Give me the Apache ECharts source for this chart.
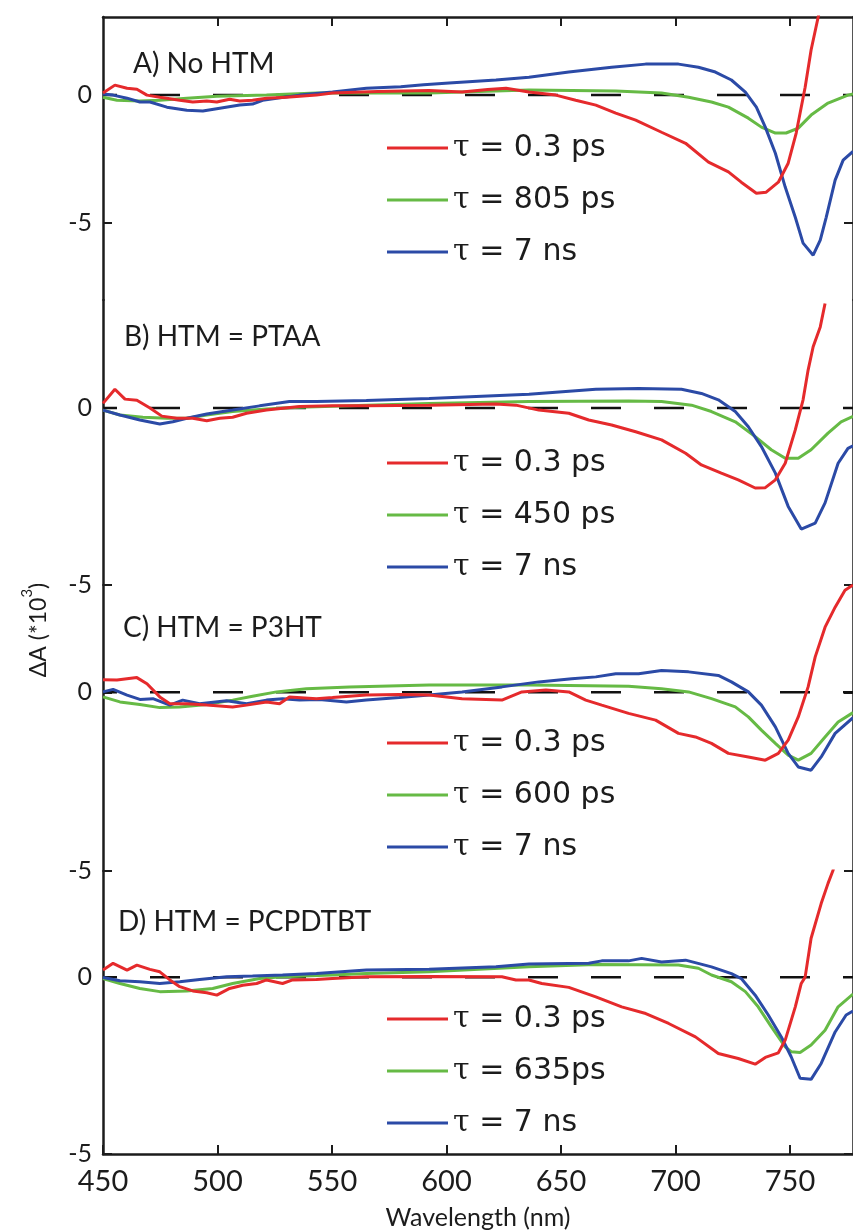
<!DOCTYPE html>
<html>
<head>
<meta charset="utf-8">
<script src="https://cdn.jsdelivr.net/npm/echarts@6/dist/echarts.min.js"></script>
<style>
  html, body { margin: 0; padding: 0; background: #ffffff; }
  #chart { width: 853px; height: 1232px; }
</style>
</head>
<body>
<div id="chart"></div>
<script>
// Transient absorption spectra: ΔA (×10^3) versus probe wavelength (nm),
// three decay components per sample, four samples stacked top to bottom.

const wavelengthTicks = [450, 500, 550, 600, 650, 700, 750];
const deltaTicks = [-5, 0];

const panelTitles = ['A) No HTM', 'B) HTM = PTAA', 'C) HTM = P3HT', 'D) HTM = PCPDTBT'];
const lifetimeLabels = [
  ['τ = 0.3 ps', 'τ = 805 ps', 'τ = 7 ns'],
  ['τ = 0.3 ps', 'τ = 450 ps', 'τ = 7 ns'],
  ['τ = 0.3 ps', 'τ = 600 ps', 'τ = 7 ns'],
  ['τ = 0.3 ps', 'τ = 635ps', 'τ = 7 ns']
];

// A) No HTM
const noHtmFast = [[450,0.08],[455.2,0.39],[460.5,0.27],[464.8,0.23],[469.2,0],[474.8,-0.08],[483.5,-0.2],[489.2,-0.27],[495.3,-0.23],[499.7,-0.27],[505.3,-0.16],[509.7,-0.23],[515.3,-0.2],[521.4,-0.12],[530.1,-0.08],[543.2,0],[550.2,0.08],[570,0.14],[592.4,0.18],[606.8,0.12],[618,0.22],[626,0.27],[636,0.12],[647.7,0],[656.4,-0.2],[665.2,-0.39],[673.9,-0.7],[682.6,-0.98],[693.9,-1.45],[704.4,-1.88],[714.4,-2.62],[723.1,-3.0],[728.7,-3.4],[735.3,-3.83],[739.6,-3.79],[744.9,-3.4],[749.2,-2.66],[752.7,-1.48],[756.6,0.31],[759.2,1.76],[762.3,3.05],[764,3.8]];
const noHtmMid = [[450,-0.08],[456.1,-0.2],[466.1,-0.23],[474.8,-0.2],[486.6,-0.12],[499.7,-0.04],[521.4,0],[543.2,0.08],[592.4,0.08],[606.8,0.12],[636,0.2],[673.9,0.16],[693.9,0.08],[705.7,-0.08],[715.7,-0.27],[723.1,-0.47],[731.8,-0.9],[737.5,-1.25],[743.6,-1.48],[748.3,-1.48],[753.6,-1.29],[759.2,-0.78],[766.6,-0.31],[775.3,0],[777.5,0.04]];
const noHtmSlow = [[450,0.04],[454.4,0],[460.5,-0.12],[466.1,-0.27],[470.5,-0.27],[477.9,-0.47],[486.6,-0.59],[493.6,-0.62],[501,-0.51],[509.7,-0.39],[515.3,-0.35],[519.7,-0.2],[535.8,0],[550.2,0.12],[565,0.27],[580,0.33],[590,0.4],[601.1,0.47],[621.6,0.59],[636,0.7],[653.4,0.9],[672.1,1.09],[686.9,1.21],[701.3,1.21],[710,1.09],[717.4,0.9],[724.4,0.59],[730.5,0.12],[735.3,-0.47],[739.2,-1.25],[743.6,-2.27],[747.9,-3.59],[752.3,-4.77],[755.7,-5.78],[760.1,-6.25],[763.2,-5.66],[765.8,-4.77],[769.7,-3.32],[773.2,-2.54],[777.5,-2.2]];

// B) HTM = PTAA
const ptaaFast = [[450,0.13],[455.2,0.53],[459.6,0.25],[464.8,0.22],[470.5,0],[475.7,-0.23],[482.2,-0.29],[489.2,-0.29],[495.3,-0.36],[501,-0.29],[506.6,-0.26],[512.7,-0.15],[521.4,-0.06],[535.8,0.04],[550.2,0.06],[565,0.06],[592.4,0.08],[621.6,0.11],[630.3,0.08],[640.3,-0.06],[653.4,-0.15],[662.1,-0.34],[672.1,-0.48],[682.6,-0.67],[693.9,-0.9],[704.4,-1.28],[711.3,-1.61],[720,-1.84],[727.4,-2.03],[734.8,-2.26],[739.2,-2.25],[743.6,-2.03],[747.9,-1.56],[752.3,-0.62],[755.7,0.23],[757.9,1.07],[760.1,1.73],[763.2,2.29],[765.3,2.95]];
const ptaaMid = [[450,-0.06],[457.4,-0.2],[467.4,-0.26],[477.9,-0.29],[486.6,-0.29],[495.3,-0.2],[506.6,-0.1],[521.4,-0.03],[535.8,0.02],[565,0.08],[592.4,0.13],[636,0.18],[679.5,0.2],[693.9,0.18],[707,0.08],[715.7,-0.1],[726.1,-0.39],[734.8,-0.81],[741.8,-1.18],[747.9,-1.42],[753.6,-1.42],[759.2,-1.18],[766.6,-0.71],[772.3,-0.39],[777.5,-0.24]];
const ptaaSlow = [[450,-0.06],[457.4,-0.2],[466.1,-0.34],[474.8,-0.45],[480.5,-0.39],[486.6,-0.29],[495.3,-0.17],[506.6,-0.06],[518.4,0.06],[531.4,0.18],[543.2,0.18],[565,0.21],[592.4,0.27],[636,0.39],[665.2,0.53],[683.9,0.55],[702.6,0.53],[711.3,0.41],[718.7,0.23],[726.1,-0.1],[731.8,-0.53],[737.5,-1.09],[743.6,-1.84],[749.2,-2.78],[754.9,-3.42],[761,-3.25],[765.3,-2.68],[771,-1.56],[775.3,-1.14],[777.5,-1.07]];

// C) HTM = P3HT
const p3htFast = [[450,0.35],[456.1,0.34],[464.8,0.41],[469.2,0.24],[474.8,-0.13],[479.2,-0.32],[486.6,-0.32],[495.3,-0.36],[506.6,-0.41],[512.7,-0.36],[521.4,-0.27],[527.1,-0.32],[531.4,-0.13],[543.2,-0.18],[550.2,-0.15],[565,-0.08],[579.4,-0.06],[592.4,-0.08],[606.8,-0.18],[624.2,-0.22],[632.9,0.01],[643.4,0.06],[653.4,0.01],[660.8,-0.22],[667.8,-0.36],[679.5,-0.59],[691.3,-0.78],[701.3,-1.15],[708.7,-1.25],[715.7,-1.43],[723.1,-1.71],[731.8,-1.81],[739.2,-1.9],[744.9,-1.71],[749.2,-1.34],[753.6,-0.69],[757.9,0.15],[761,0.99],[765.3,1.82],[769.7,2.38],[774,2.85],[777.5,3.0]];
const p3htMid = [[450,-0.13],[457.4,-0.27],[466.1,-0.34],[474.8,-0.43],[483.5,-0.41],[495.3,-0.34],[506.6,-0.22],[515.3,-0.11],[525.8,0.01],[538.8,0.1],[557.6,0.15],[592.4,0.2],[636,0.2],[679.5,0.17],[693.9,0.1],[705.7,0.01],[715.7,-0.18],[726.1,-0.41],[731.8,-0.69],[737.5,-1.06],[743.6,-1.43],[749.2,-1.76],[753.6,-1.9],[759.2,-1.71],[765.3,-1.25],[771,-0.83],[777.5,-0.57]];
const p3htSlow = [[450,0.01],[454.4,0.08],[460.5,-0.08],[466.1,-0.2],[471.8,-0.18],[479.2,-0.36],[484.8,-0.22],[492.2,-0.32],[504,-0.24],[512.7,-0.32],[521.4,-0.22],[528.4,-0.18],[535.8,-0.22],[544.5,-0.2],[556.3,-0.27],[565,-0.22],[579.4,-0.15],[592.4,-0.08],[606.8,0.01],[624.2,0.15],[640.3,0.29],[654.7,0.38],[665.2,0.43],[673.9,0.52],[683.9,0.52],[693.9,0.61],[705.7,0.57],[718.7,0.47],[724.4,0.29],[731.8,0.01],[737.5,-0.36],[743.6,-0.97],[749.2,-1.71],[753.6,-2.09],[759.2,-2.18],[763.6,-1.81],[769.7,-1.15],[777.5,-0.71]];

// D) HTM = PCPDTBT
const pcpdtbtFast = [[450,0.2],[454.4,0.39],[460.5,0.2],[464.8,0.34],[470.5,0.22],[474.8,0.15],[479.2,-0.08],[483.5,-0.27],[489.2,-0.39],[495.3,-0.44],[499.7,-0.51],[505.3,-0.32],[511,-0.23],[517.1,-0.18],[521.4,-0.08],[528.4,-0.18],[532.8,-0.08],[543.2,-0.07],[550.2,-0.04],[565,0.01],[592.4,0.02],[624.2,0.01],[630.3,-0.08],[636,-0.08],[641.6,-0.18],[653.4,-0.29],[665.2,-0.56],[676.5,-0.84],[687,-1.03],[697,-1.31],[708.7,-1.69],[718.7,-2.16],[727.4,-2.3],[734.8,-2.46],[739.2,-2.27],[744.9,-2.14],[747.9,-1.78],[752.3,-0.84],[754.9,-0.18],[756.6,0],[759.2,1.1],[763.6,2.08],[766.6,2.65],[768.8,3.02],[770,3.4]];
const pcpdtbtMid = [[450,-0.04],[457.4,-0.18],[466.1,-0.32],[474.8,-0.41],[486.6,-0.39],[497.9,-0.32],[506.6,-0.18],[518.4,-0.04],[528.4,0.01],[550.2,0.06],[565,0.1],[592.4,0.15],[636,0.29],[665.2,0.36],[701.3,0.34],[710,0.25],[715.7,0.06],[724.4,-0.13],[730.5,-0.41],[736.1,-0.84],[741.8,-1.4],[747.9,-1.97],[750.5,-2.11],[754.4,-2.13],[759.2,-1.92],[765.3,-1.5],[771,-0.84],[777.5,-0.48]];
const pcpdtbtSlow = [[450,-0.01],[457.4,-0.1],[466.1,-0.13],[474.8,-0.18],[483.5,-0.13],[492.2,-0.07],[504,0.01],[515.3,0.03],[528.4,0.06],[543.2,0.1],[565,0.2],[592.4,0.22],[621.6,0.29],[636,0.37],[662.1,0.39],[667.8,0.46],[679.5,0.46],[685.2,0.53],[693.9,0.43],[704.4,0.48],[715.7,0.29],[724.4,0.1],[728.7,-0.04],[734.8,-0.51],[740.5,-1.07],[746.2,-1.69],[750.5,-2.25],[754.4,-2.86],[759.2,-2.89],[763.6,-2.44],[769.7,-1.55],[774.5,-1.07],[777.5,-0.96]];

// Zero reference drawn across each panel
const zeroLine = [[450, 0], [777.5, 0]];

const panelSeries = [
  [noHtmFast, noHtmMid, noHtmSlow],
  [ptaaFast, ptaaMid, ptaaSlow],
  [p3htFast, p3htMid, p3htSlow],
  [pcpdtbtFast, pcpdtbtMid, pcpdtbtSlow]
];

const curveColors = ['#e52a2c', '#66ba45', '#2b4aa6'];
const ink = '#1c1c1c';
const plotLeft = 103, plotWidth = 752;
const xMin = 450, xMax = 777.5;

// vertical layout of the stacked panels (pixels) and each panel's ΔA range
const panelLayout = [
  { top: 17,  height: 283, min: -8, max: 3.05, titleX: 133, titleY: 64,  legendTop: 117 },
  { top: 300, height: 285, min: -5, max: 3.05, titleX: 124, titleY: 337, legendTop: 432 },
  { top: 585, height: 286, min: -5, max: 3,    titleX: 123, titleY: 628, legendTop: 712 },
  { top: 871, height: 283, min: -5, max: 3,    titleX: 118, titleY: 922, legendTop: 988 }
];

const grid = [], xAxis = [], yAxis = [], series = [], legend = [], graphic = [];

panelLayout.forEach((p, i) => {
  grid.push({ left: plotLeft, top: p.top, width: plotWidth, height: p.height, containLabel: false });

  const isTop = i === 0, isBottom = i === panelLayout.length - 1;
  xAxis.push({
    type: 'value', gridIndex: i, min: xMin, max: xMax,
    show: isTop || isBottom,
    position: isTop ? 'top' : 'bottom',
    axisLine: { show: true, onZero: false, lineStyle: { color: ink, width: 2.5 } },
    axisTick: { show: true, inside: true, length: 9, lineStyle: { color: ink, width: 2 },
                customValues: isTop ? wavelengthTicks.slice(1) : wavelengthTicks },
    axisLabel: { show: isBottom, customValues: wavelengthTicks, margin: 13,
                 alignMinLabel: 'center', alignMaxLabel: 'center', hideOverlap: false,
                 fontFamily: 'Lato', fontSize: 29, color: ink },
    splitLine: { show: false },
    name: isBottom ? 'Wavelength (nm)' : '',
    nameLocation: 'middle', nameGap: 51,
    nameTextStyle: { fontFamily: 'Lato', fontSize: 25, color: ink }
  });

  yAxis.push({
    type: 'value', gridIndex: i, min: p.min, max: p.max, position: 'left',
    axisLine: { show: true, onZero: false, lineStyle: { color: ink, width: 2.5 } },
    axisTick: { show: true, inside: true, length: 9, customValues: deltaTicks, lineStyle: { color: ink, width: 2 } },
    axisLabel: { customValues: deltaTicks, margin: 11, fontFamily: 'Lato', fontSize: 25, color: ink },
    splitLine: { show: false }
  });
  yAxis.push({
    type: 'value', gridIndex: i, min: p.min, max: p.max, position: 'right',
    axisLine: { show: true, onZero: false, lineStyle: { color: ink, width: 2.5 } },
    axisTick: { show: true, inside: true, length: 9, customValues: deltaTicks, lineStyle: { color: ink, width: 2 } },
    axisLabel: { show: false },
    splitLine: { show: false }
  });

  series.push({
    type: 'line', name: 'zero' + i, xAxisIndex: i, yAxisIndex: 2 * i,
    data: zeroLine, showSymbol: false, silent: true, z: 1,
    lineStyle: { color: '#111', width: 2.5, type: [30, 33], dashOffset: 16 }
  });

  panelSeries[i].forEach((d, k) => {
    series.push({
      type: 'line', name: lifetimeLabels[i][k], xAxisIndex: i, yAxisIndex: 2 * i,
      data: d, showSymbol: false, clip: true, z: 2 + (k === 0 ? 2 : k === 2 ? 1 : 0),
      color: curveColors[k],
      lineStyle: { color: curveColors[k], width: 3 }
    });
  });

  legend.push({
    data: lifetimeLabels[i], orient: 'vertical', left: 382, top: p.legendTop,
    itemWidth: 61, itemHeight: 3, itemGap: 0, icon: 'rect', selectedMode: false,
    formatter: name => name.replace('τ', '{t|τ}'),
    textStyle: {
      fontFamily: 'DejaVu Sans', fontSize: 30, color: ink, lineHeight: 52,
      rich: { t: { fontFamily: 'DejaVu Serif', fontSize: 30, lineHeight: 52, color: ink } }
    }
  });

  graphic.push({
    type: 'text', x: p.titleX, y: p.titleY,
    style: { text: panelTitles[i], font: '28px Lato', fill: ink, verticalAlign: 'middle' }
  });
});

graphic.push({
  type: 'text', x: 35, y: 630, rotation: Math.PI / 2,
  style: {
    text: '{a|ΔA (*10}{s|3}{a|)}', align: 'center', verticalAlign: 'middle', fill: ink,
    rich: {
      a: { fontFamily: 'Lato', fontSize: 23, lineHeight: 30, verticalAlign: 'bottom', fill: ink },
      s: { fontFamily: 'Lato', fontSize: 15, lineHeight: 15, verticalAlign: 'top', fill: ink }
    }
  }
});

const chart = echarts.init(document.getElementById('chart'), null, { renderer: 'canvas' });
chart.setOption({
  backgroundColor: '#ffffff',
  animation: false,
  grid, xAxis, yAxis, series, legend, graphic
});
</script>
</body>
</html>
